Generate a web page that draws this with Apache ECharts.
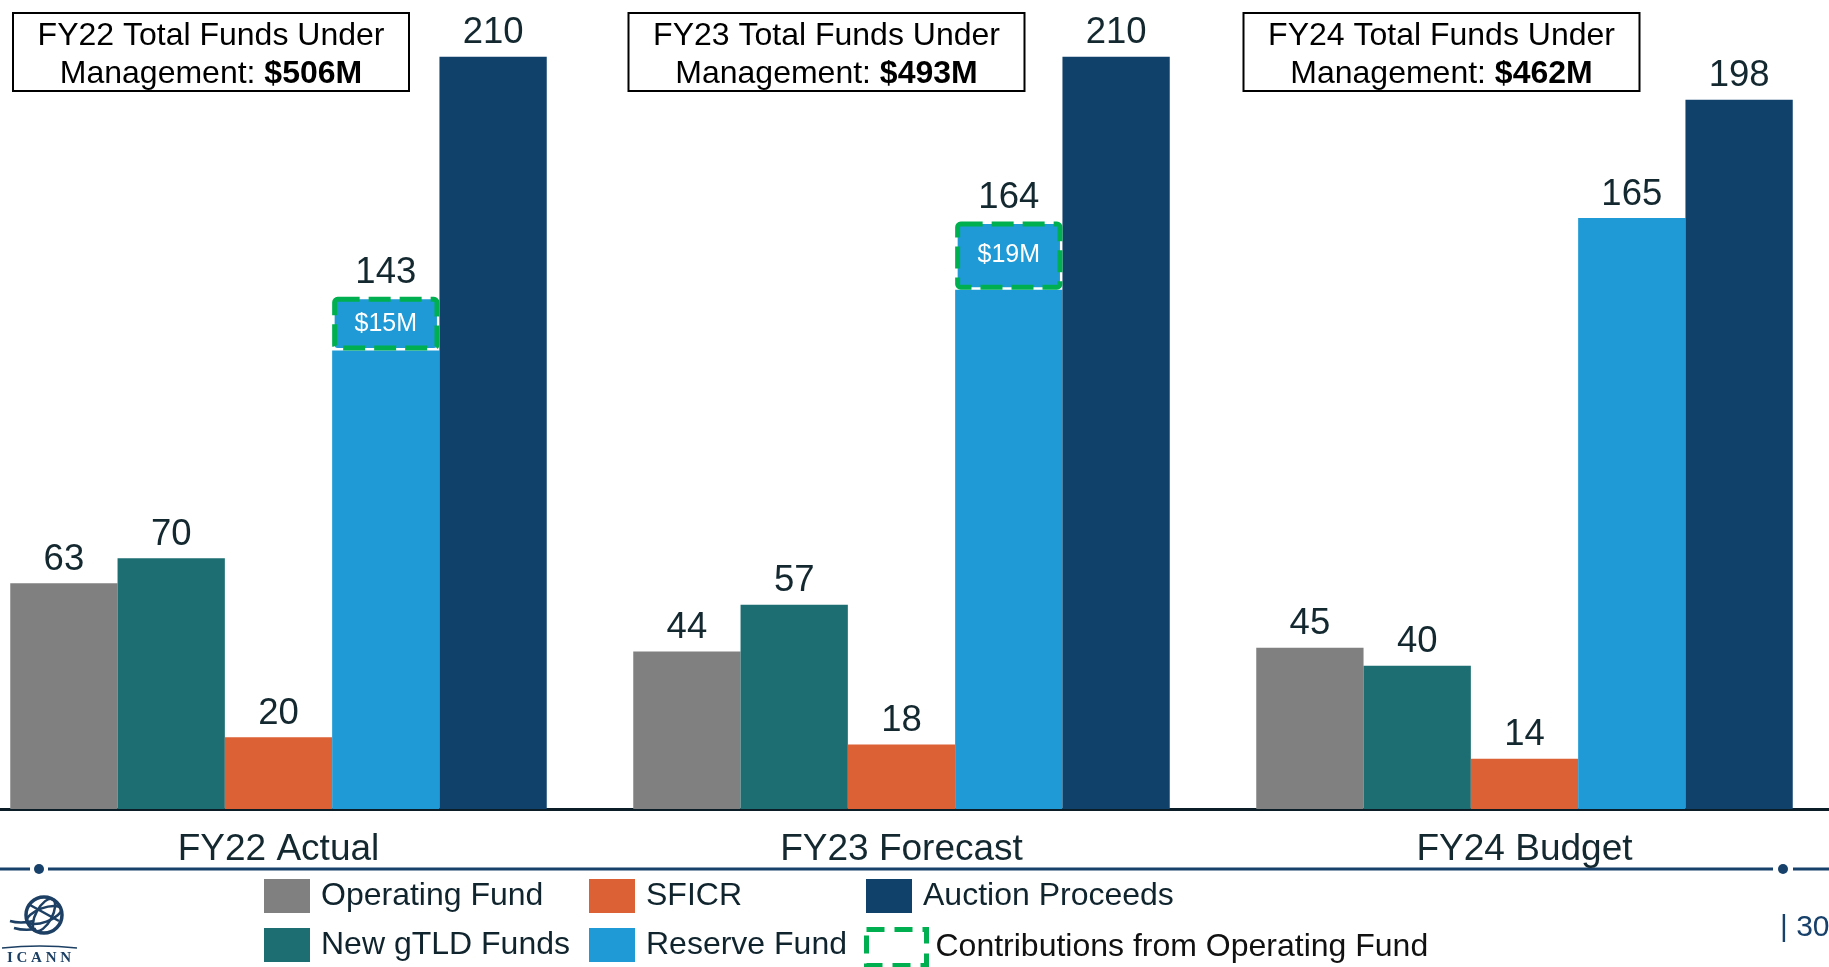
<!DOCTYPE html>
<html>
<head>
<meta charset="utf-8">
<script src="https://cdn.jsdelivr.net/npm/echarts@6/dist/echarts.min.js"></script>
<style>
html,body{margin:0;padding:0;background:#fff;overflow:hidden;width:1829px;height:967px;position:relative;}
#chart{position:absolute;left:-33px;top:0;width:1869px;height:967px;}
</style>
</head>
<body>
<div id="chart"></div>
<script>
// ---- data ----
const categories = ['FY22 Actual', 'FY23 Forecast', 'FY24 Budget'];
const operatingFund = [63, 44, 45];
const newGtldFunds = [70, 57, 40];
const sficr = [20, 18, 14];
const reserveFund = [143, 164, 165];
const contributions = [15, 19, null];
const auctionProceeds = [210, 210, 198];
const boxYears = ['FY22', 'FY23', 'FY24'];
const totalFunds = ['$506M', '$493M', '$462M'];
const pageNumber = '| 30';

// ---- styles ----
const OX = 33; // the chart canvas starts 33px left of the page
const FONT = '"Liberation Sans", Arial, sans-serif';
const LABEL_COLOR = '#142830';
const colors = {
  op: '#808080', gtld: '#1d6e72', sficr: '#dc6134',
  reserve: '#1f9ad6', auction: '#10416b', green: '#00b050', navyLine: '#17406a'
};
const BAR_W = 107.3;

const chart = echarts.init(document.getElementById('chart'), null, {renderer: 'canvas'});

const topLabel = {
  show: true, position: 'top', distance: 5,
  fontFamily: FONT, fontSize: 36.5, color: LABEL_COLOR
};

const reserveBase = reserveFund.map((v, i) => contributions[i] ? v - contributions[i] : v);
const contribData = contributions.map(v => v ? v : '-');

function barSeries(name, data, color, extra) {
  return Object.assign({
    name: name, type: 'bar', data: data, barWidth: BAR_W, barGap: '0%',
    itemStyle: {color: color}, label: topLabel, z: 2
  }, extra || {});
}

const legendText = {fontFamily: FONT, fontSize: 32, color: '#10242e', padding: [3, 0, 0, 6]};
function legend(left, top, names, w, h, extra) {
  return Object.assign({
    orient: 'vertical', left: left + OX, top: top, itemWidth: w, itemHeight: h, itemGap: 15,
    icon: 'rect', selectedMode: false, data: names, textStyle: legendText, padding: 0
  }, extra || {});
}

// graphics (page coordinates, shifted by OX)
const graphics = [];
const boxCentersX = [211, 826.5, 1441.5];
for (let i = 0; i < 3; i++) {
  graphics.push({
    type: 'rect', shape: {x: boxCentersX[i] - 198 + OX, y: 13, width: 396, height: 78},
    style: {fill: '#fff', stroke: '#000', lineWidth: 2}, z: 10
  });
  graphics.push({
    type: 'text', x: boxCentersX[i] + OX, y: 55, z: 11,
    style: {
      text: '{n|' + boxYears[i] + ' Total Funds Under}\n{n|Management: }{b|' + totalFunds[i] + '}',
      align: 'center', verticalAlign: 'middle',
      rich: {
        n: {fontFamily: FONT, fontSize: 32, color: '#000', lineHeight: 38},
        b: {fontFamily: FONT, fontSize: 32, fontWeight: 'bold', color: '#000', lineHeight: 38}
      }
    }
  });
}
// bottom decorative line
[[-OX, 30], [48, 1773], [1793, 1840]].forEach(s => {
  graphics.push({type: 'line', shape: {x1: s[0] + OX, y1: 869, x2: s[1] + OX, y2: 869},
    style: {stroke: colors.navyLine, lineWidth: 3}});
});
[39, 1783].forEach(x => {
  graphics.push({type: 'circle', shape: {cx: x + OX, cy: 869, r: 5}, style: {fill: colors.navyLine}});
});
graphics.push({type: 'text', x: 1780 + OX, y: 928, style: {text: pageNumber, fontFamily: FONT, fontSize: 30,
  fill: colors.navyLine, verticalAlign: 'middle', align: 'left'}});

// ICANN logo
const LC = '#1c3f63';
const gx = 44 + OX, gy = 915;
graphics.push({type: 'circle', shape: {cx: gx, cy: gy, r: 18}, style: {fill: 'none', stroke: LC, lineWidth: 3.5}});
graphics.push({type: 'ellipse', shape: {cx: gx, cy: gy, rx: 8, ry: 18}, rotation: -0.5, originX: gx, originY: gy,
  style: {fill: 'none', stroke: LC, lineWidth: 2.5}});
graphics.push({type: 'ellipse', shape: {cx: gx, cy: gy, rx: 18, ry: 7}, rotation: 0.35, originX: gx, originY: gy,
  style: {fill: 'none', stroke: LC, lineWidth: 2.5}});
graphics.push({type: 'line', shape: {x1: gx - 14, y1: gy - 10, x2: gx + 15, y2: gy + 6}, style: {stroke: LC, lineWidth: 2.5}});
graphics.push({type: 'bezierCurve', shape: {x1: 10 + OX, y1: 921, x2: 34 + OX, y2: 921, cpx1: 20 + OX, cpy1: 924}, style: {stroke: LC, lineWidth: 2.5, fill: 'none'}});
graphics.push({type: 'bezierCurve', shape: {x1: 14 + OX, y1: 928, x2: 36 + OX, y2: 929, cpx1: 24 + OX, cpy1: 931}, style: {stroke: LC, lineWidth: 2.5, fill: 'none'}});
graphics.push({type: 'bezierCurve', shape: {x1: 2 + OX, y1: 948, x2: 77 + OX, y2: 948, cpx1: 40 + OX, cpy1: 944}, style: {stroke: LC, lineWidth: 1.5, fill: 'none'}});
graphics.push({type: 'text', x: 39 + OX, y: 958, style: {text: 'I C A N N', fontFamily: '"Liberation Serif", serif',
  fontWeight: 'bold', fontSize: 15, fill: LC, align: 'center', verticalAlign: 'middle'}});

const option = {
  animation: false,
  backgroundColor: '#fff',
  grid: {left: 0, right: 0, top: 21, bottom: 158, containLabel: false},
  xAxis: {
    type: 'category', data: categories,
    axisTick: {show: false},
    axisLine: {lineStyle: {color: '#0b1e28', width: 3}},
    axisLabel: {fontFamily: FONT, fontSize: 37, color: LABEL_COLOR, margin: 22}
  },
  yAxis: {type: 'value', min: 0, max: 220, show: false, splitLine: {show: false}},
  legend: [
    legend(264, 879, ['Operating Fund', 'New gTLD Funds'], 46, 34),
    legend(589, 879, ['SFICR', 'Reserve Fund'], 46, 34),
    legend(866, 879, ['Auction Proceeds'], 46, 34),
    legend(864, 927, [{
      name: 'Contributions from Operating Fund',
      itemStyle: {color: 'rgba(0,0,0,0)', borderColor: colors.green, borderWidth: 5, borderType: [18, 10]}
    }], 60, 36, {textStyle: Object.assign({}, legendText, {color: '#111', padding: [3, 0, 0, 4]})})
  ],
  series: [
    barSeries('Operating Fund', operatingFund, colors.op),
    barSeries('New gTLD Funds', newGtldFunds, colors.gtld),
    barSeries('SFICR', sficr, colors.sficr),
    barSeries('Reserve Fund', reserveBase, colors.reserve, {stack: 'reserve', label: {show: false}}),
    barSeries('Contributions from Operating Fund', contribData, colors.reserve, {
      stack: 'reserve', z: 4,
      itemStyle: {color: colors.reserve, borderColor: colors.green, borderWidth: 5, borderType: [22, 9], borderRadius: 3},
      label: {show: true, position: 'inside', fontFamily: FONT, fontSize: 25, color: '#fff',
        formatter: p => '$' + p.value + 'M'}
    }),
    barSeries('Reserve Total', reserveFund.map(() => 0), 'rgba(0,0,0,0)', {
      stack: 'reserve', z: 5,
      label: Object.assign({}, topLabel, {formatter: p => String(reserveFund[p.dataIndex])})
    }),
    barSeries('Auction Proceeds', auctionProceeds, colors.auction)
  ],
  graphic: graphics
};
chart.setOption(option);
</script>
</body>
</html>
